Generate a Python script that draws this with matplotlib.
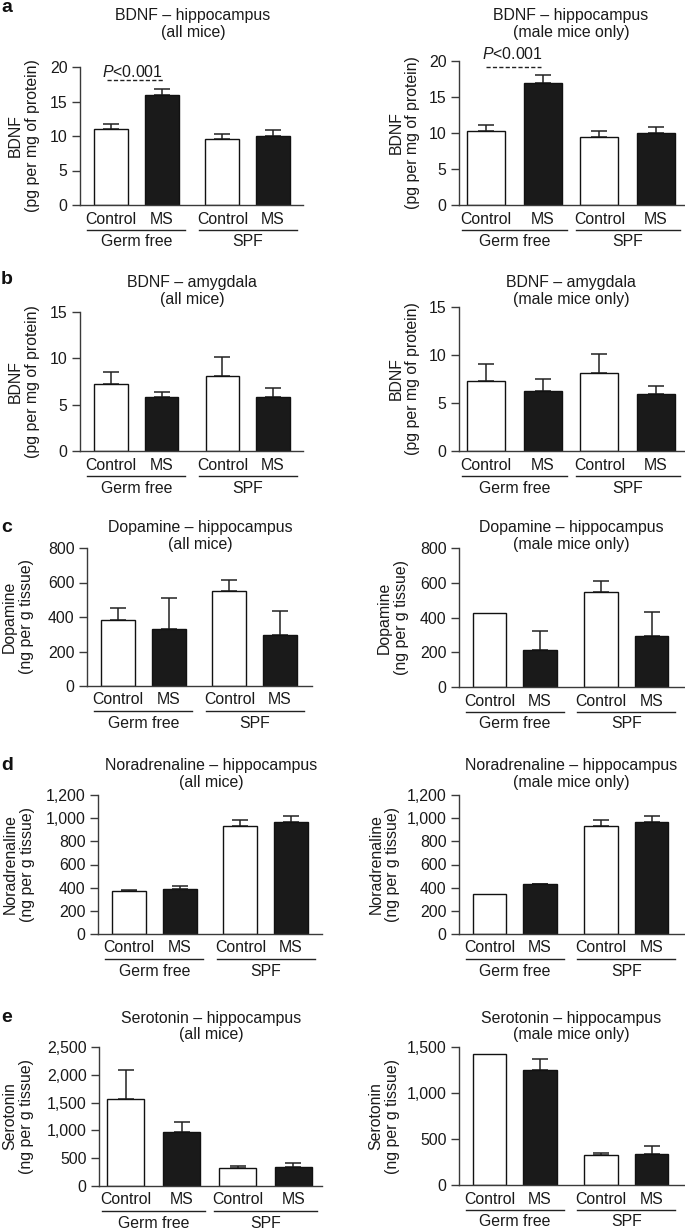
import matplotlib
matplotlib.use('Agg')
import matplotlib.pyplot as plt
import matplotlib.transforms as mtransforms
from matplotlib.ticker import FuncFormatter, MultipleLocator

plt.rcParams['font.family'] = ['Liberation Sans', 'DejaVu Sans']
plt.rcParams['mathtext.fontset'] = 'custom'
plt.rcParams['mathtext.rm'] = 'Liberation Sans'
plt.rcParams['mathtext.it'] = 'Liberation Sans:italic'

# ---------------- data ----------------
categories = ['Control', 'MS', 'Control', 'MS']
groups = ['Germ free', 'SPF']
bar_colors = ['white', '#1a1a1a', 'white', '#1a1a1a']

bdnf_hip_all = [10.95, 15.95, 9.5, 10.0]
bdnf_hip_all_err = [0.75, 0.85, 0.72, 0.85]
bdnf_hip_male = [10.3, 16.95, 9.5, 10.0]
bdnf_hip_male_err = [0.88, 1.15, 0.75, 0.82]

bdnf_amy_all = [7.25, 5.8, 8.05, 5.88]
bdnf_amy_all_err = [1.3, 0.55, 2.05, 0.9]
bdnf_amy_male = [7.33, 6.2, 8.09, 5.9]
bdnf_amy_male_err = [1.73, 1.33, 1.98, 0.87]

dopamine_all = [385, 333, 551, 293]
dopamine_all_err = [66, 176, 62, 141]
dopamine_male = [426, 211, 549, 294]
dopamine_male_err = [0, 111, 61, 138]

noradrenaline_all = [374, 388, 929, 970]
noradrenaline_all_err = [9, 29, 58, 49]
noradrenaline_male = [348, 429, 929, 970]
noradrenaline_male_err = [0, 5, 58, 49]

serotonin_all = [1573, 969, 329, 341]
serotonin_all_err = [520, 185, 24, 78]
serotonin_male = [1420, 1247, 325, 340]
serotonin_male_err = [0, 119, 26, 83]

p_label = '$P$<0.001'

# ---------------- layout ----------------
W, H = 685, 1231
fig = plt.figure(figsize=(W / 100, H / 100), dpi=100)

PAIRED = [0, 1, 2.2, 3.2]
EVEN = [0, 1, 2, 3]
FS = 11.4
TXT = '#1a1a1a'
AXC = '#3a3a3a'


def fmt_thousands(v, pos):
    return '{:,}'.format(int(round(v)))


def panel(box, vals, errs, ymax, ystep, title, title_xy, ylabel, ylab_x,
          pos, bw, xlim, sig=None):
    x0, x1, ytop, ybot = box
    ax = fig.add_axes([x0 / W, 1 - ybot / H, (x1 - x0) / W, (ybot - ytop) / H])
    ax.bar(pos, vals, width=bw, color=bar_colors, edgecolor='#111111',
           linewidth=1.0, zorder=2)
    ep = [p for p, e in zip(pos, errs) if e > 0]
    ev = [v for v, e in zip(vals, errs) if e > 0]
    ee = [e for e in errs if e > 0]
    ax.errorbar(ep, ev, yerr=[[0] * len(ee), ee], fmt='none', ecolor='#222222',
                elinewidth=1.1, capsize=5.5, capthick=1.1, zorder=1)
    ax.set_xlim(*xlim)
    ax.set_ylim(0, ymax)
    ax.yaxis.set_major_locator(MultipleLocator(ystep))
    ax.yaxis.set_major_formatter(FuncFormatter(fmt_thousands))
    ax.set_xticks([])
    for s in ['top', 'right']:
        ax.spines[s].set_visible(False)
    for s in ['left', 'bottom']:
        ax.spines[s].set_color(AXC)
        ax.spines[s].set_linewidth(1.0)
    ax.tick_params(axis='y', length=6, width=1.0, pad=3, labelsize=FS,
                   colors=AXC, labelcolor=TXT, direction='out')
    ax.patch.set_alpha(0)

    blend = mtransforms.blended_transform_factory(ax.transData, ax.transAxes)
    t_cat = mtransforms.offset_copy(blend, fig=fig, x=0, y=-14, units='dots')
    t_line = mtransforms.offset_copy(blend, fig=fig, x=0, y=-25, units='dots')
    t_grp = mtransforms.offset_copy(blend, fig=fig, x=0, y=-37, units='dots')
    for p, c in zip(pos, categories):
        ax.text(p, 0, c, transform=t_cat, ha='center', va='center',
                fontsize=FS, color=TXT, clip_on=False)
    ext = 0.47 if pos == PAIRED else 0.42
    for gi, g in enumerate(groups):
        a, b = pos[2 * gi], pos[2 * gi + 1]
        ax.plot([a - ext, b + ext], [0, 0], transform=t_line, color='#222222',
                linewidth=1.0, clip_on=False)
        ax.text((a + b) / 2, 0, g, transform=t_grp, ha='center', va='center',
                fontsize=FS, color=TXT, clip_on=False)

    fig.text(title_xy[0] / W, 1 - title_xy[1] / H, title, ha='center',
             va='center', multialignment='center', fontsize=FS, color=TXT,
             linespacing=1.15)
    fig.text(ylab_x / W, 1 - ((ytop + ybot) / 2) / H, ylabel, ha='center',
             va='center', rotation=90, multialignment='center', fontsize=FS,
             color=TXT, linespacing=1.15)

    if sig is not None:
        lx0, lx1, ly, tx, ty = sig
        ax.plot([lx0, lx1], [ly, ly], color='#222222', linewidth=1.0,
                linestyle=(0, (3, 1.6)), clip_on=False)
        ax.text(tx, ty, p_label, ha='center', va='center', fontsize=FS,
                color=TXT, clip_on=False)
    return ax


bdnf_lab = 'BDNF\n(pg per mg of protein)'

# a
panel((80, 303, 67, 205), bdnf_hip_all, bdnf_hip_all_err, 20, 5,
      'BDNF \u2013 hippocampus\n(all mice)', (193, 24), bdnf_lab, 24,
      PAIRED, 0.67, (-0.61, 3.79), sig=(-0.08, 1.02, 18.1, 0.43, 19.3))
panel((459, 685, 61, 205), bdnf_hip_male, bdnf_hip_male_err, 20, 5,
      'BDNF \u2013 hippocampus\n(male mice only)', (571, 24), bdnf_lab, 404.5,
      EVEN, 0.67, (-0.48, 3.51), sig=(0.0, 0.96, 19.2, 0.46, 21.0))

# b
panel((80, 303, 312, 451), bdnf_amy_all, bdnf_amy_all_err, 15, 5,
      'BDNF \u2013 amygdala\n(all mice)', (192, 291), bdnf_lab, 24,
      PAIRED, 0.66, (-0.61, 3.79))
panel((459, 685, 307, 451), bdnf_amy_male, bdnf_amy_male_err, 15, 5,
      'BDNF \u2013 amygdala\n(male mice only)', (571, 291), bdnf_lab, 404.5,
      EVEN, 0.67, (-0.48, 3.51))

# c
dop_lab = 'Dopamine\n(ng per g tissue)'
panel((87, 312, 548, 686), dopamine_all, dopamine_all_err, 800, 200,
      'Dopamine \u2013 hippocampus\n(all mice)', (200, 536), dop_lab, 18,
      PAIRED, 0.67, (-0.61, 3.83))
panel((459, 685, 548, 687), dopamine_male, dopamine_male_err, 800, 200,
      'Dopamine \u2013 hippocampus\n(male mice only)', (571, 536), dop_lab, 393,
      PAIRED, 0.66, (-0.6, 3.86))

# d
nor_lab = 'Noradrenaline\n(ng per g tissue)'
panel((98, 322, 795, 934), noradrenaline_all, noradrenaline_all_err, 1200, 200,
      'Noradrenaline \u2013 hippocampus\n(all mice)', (211, 774), nor_lab, 19,
      PAIRED, 0.67, (-0.61, 3.81))
panel((459, 685, 795, 934), noradrenaline_male, noradrenaline_male_err, 1200, 200,
      'Noradrenaline \u2013 hippocampus\n(male mice only)', (571, 774), nor_lab, 384.5,
      PAIRED, 0.66, (-0.6, 3.86))

# e
ser_lab = 'Serotonin\n(ng per g tissue)'
panel((99, 322, 1047, 1186), serotonin_all, serotonin_all_err, 2500, 500,
      'Serotonin \u2013 hippocampus\n(all mice)', (211, 1026.5), ser_lab, 18,
      EVEN, 0.66, (-0.48, 3.51))
panel((459, 685, 1047, 1185), serotonin_male, serotonin_male_err, 1500, 500,
      'Serotonin \u2013 hippocampus\n(male mice only)', (571, 1026.5), ser_lab, 384.5,
      PAIRED, 0.66, (-0.6, 3.86))

# panel letters
for letter, y in zip('abcde', [8, 279, 527, 765, 1017]):
    fig.text(1 / W, 1 - y / H, letter, ha='left', va='center', fontsize=14,
             fontweight='bold', color='#111111')

fig.savefig('out.png', dpi=100)
